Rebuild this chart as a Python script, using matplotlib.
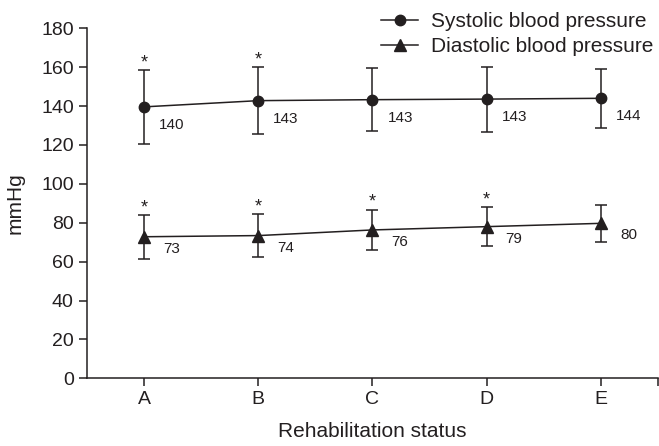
import matplotlib
matplotlib.use('Agg')
import matplotlib.pyplot as plt
from matplotlib.lines import Line2D
import numpy as np

plt.rcParams['font.family'] = ['Liberation Sans', 'DejaVu Sans']

# rehabilitation status groups
statuses = ['A', 'B', 'C', 'D', 'E']

# systolic blood pressure (mean, SD)
systolic = [139.6, 142.8, 143.3, 143.6, 144.0]
systolic_sd = [19.1, 17.4, 16.2, 16.7, 15.1]
systolic_labels = ['140', '143', '143', '143', '144']
systolic_star = [True, True, False, False, False]

# diastolic blood pressure (mean, SD)
diastolic = [72.8, 73.4, 76.3, 78.0, 79.7]
diastolic_sd = [11.3, 11.0, 10.5, 10.2, 9.5]
diastolic_labels = ['73', '74', '76', '79', '80']
diastolic_star = [True, True, True, True, False]

ink = '#231f20'

fig = plt.figure(figsize=(6.59, 4.46), dpi=100)
ax = fig.add_axes([0.132, 0.1518, 0.8665, 0.7847])

x = np.arange(len(statuses))

ax.errorbar(x, systolic, yerr=systolic_sd, color=ink, marker='o', markersize=7.5,
            linewidth=1.1, elinewidth=1.1, capsize=4.3, capthick=1.1)
ax.errorbar(x, diastolic, yerr=diastolic_sd, color=ink, marker='^', markersize=8,
            linewidth=1.1, elinewidth=1.1, capsize=4.3, capthick=1.1)

# value labels next to the points
for i in range(len(x)):
    ax.annotate(systolic_labels[i], (x[i], systolic[i]), xytext=(15, -18),
                textcoords='offset pixels', ha='left', va='center',
                fontsize=11, color=ink)
    ax.annotate(diastolic_labels[i], (x[i], diastolic[i]), xytext=(19, -12),
                textcoords='offset pixels', ha='left', va='center',
                fontsize=11, color=ink)

# significance stars above the error bars
for i in range(len(x)):
    if systolic_star[i]:
        ax.annotate('*', (x[i], systolic[i] + systolic_sd[i]), xytext=(0, -1),
                    textcoords='offset points', ha='center', va='bottom',
                    fontsize=13, color=ink)
    if diastolic_star[i]:
        ax.annotate('*', (x[i], diastolic[i] + diastolic_sd[i]), xytext=(0, -1),
                    textcoords='offset points', ha='center', va='bottom',
                    fontsize=13, color=ink)

ax.set_xlim(-0.5, 4.5)
ax.set_ylim(0, 180)
ax.set_xticks(list(x) + [4.5])
ax.set_xticklabels(statuses + [''])
ax.set_yticks(np.arange(0, 181, 20))

for s in ['top', 'right']:
    ax.spines[s].set_visible(False)
for s in ['left', 'bottom']:
    ax.spines[s].set_linewidth(1.1)
    ax.spines[s].set_color(ink)

ax.tick_params(axis='both', direction='out', length=5.5, width=1.1, colors=ink,
               labelsize=14, pad=4)

ax.set_xlabel('Rehabilitation status', fontsize=15, color=ink, labelpad=10)
ax.set_ylabel('mmHg', fontsize=15, color=ink)
ax.yaxis.set_label_coords(-0.11, 0.5)

# legend without the error bars, just line and marker
handles = [Line2D([], [], color=ink, marker='o', markersize=7.5, linewidth=1.1),
           Line2D([], [], color=ink, marker='^', markersize=8, linewidth=1.1)]
ax.legend(handles, ['Systolic blood pressure', 'Diastolic blood pressure'],
          loc='upper left', bbox_to_anchor=(0.578, 0.973),
          bbox_transform=fig.transFigure, frameon=False, fontsize=15,
          handlelength=1.8, handletextpad=0.6, labelspacing=0.3,
          borderpad=0, borderaxespad=0, labelcolor=ink)

plt.savefig('out.png', dpi=100)
